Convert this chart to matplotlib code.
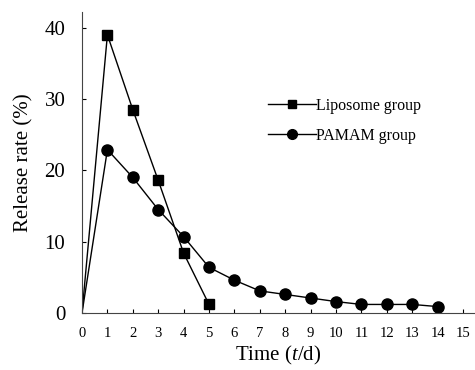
import matplotlib
matplotlib.use("Agg")
import matplotlib.pyplot as plt
from matplotlib.lines import Line2D

days_lipo = [0, 1, 2, 3, 4, 5]
lipo = [0, 39.0, 28.5, 18.6, 8.4, 1.2]
days_pamam = [0, 1, 2, 3, 4, 5, 6, 7, 8, 9, 10, 11, 12, 13, 14]
pamam = [0, 22.9, 19.0, 14.5, 10.7, 6.4, 4.6, 3.1, 2.6, 2.1, 1.6, 1.2, 1.2, 1.2, 0.9]
x_ticks = list(range(0, 16))
y_ticks = [0, 10, 20, 30, 40]

plt.rcParams['font.family'] = ['Liberation Serif', 'DejaVu Serif']
plt.rcParams['mathtext.fontset'] = 'custom'
plt.rcParams['mathtext.it'] = 'Liberation Serif:italic'
plt.rcParams['mathtext.rm'] = 'Liberation Serif'

fig = plt.figure(figsize=(4.75, 3.7), dpi=100)
ax = fig.add_axes([82/475, 1-313/370, (475-82)/475, (313-12)/370])

ax.plot(days_lipo, lipo, color='black', lw=1.0, marker='s', ms=7.5,
        markevery=list(range(1, len(days_lipo))), label='Liposome group')
ax.plot(days_pamam, pamam, color='black', lw=1.0, marker='o', ms=8,
        markevery=list(range(1, len(days_pamam))), label='PAMAM group')

ax.set_xlim(0, 15.47)
ax.set_ylim(0, 42.2)
ax.set_xticks(x_ticks)
ax.set_yticks(y_ticks)
ax.tick_params(axis='x', direction='in', length=3, labelsize=10.5, pad=10)
ax.tick_params(axis='y', direction='in', length=3, labelsize=15, pad=12)
for s in ['top', 'right']:
    ax.spines[s].set_visible(False)
ax.spines['left'].set_color('#444444')
ax.spines['bottom'].set_color('#444444')

ax.set_xlabel('Time ($t$/d)', fontsize=15, labelpad=3)
ax.set_ylabel('Release rate (%)', fontsize=15, labelpad=8)

handles = [Line2D([], [], color='black', lw=1.0, marker='s', ms=6),
           Line2D([], [], color='black', lw=1.0, marker='o', ms=7)]
leg = ax.legend(handles, ['Liposome group', 'PAMAM group'], loc='upper left',
                bbox_to_anchor=((268-82)/393, (313-98)/301), frameon=False,
                fontsize=11.5, handlelength=3.0, handletextpad=0.0,
                borderaxespad=0, labelspacing=0.85, borderpad=0)

fig.savefig('out.png', dpi=100)
